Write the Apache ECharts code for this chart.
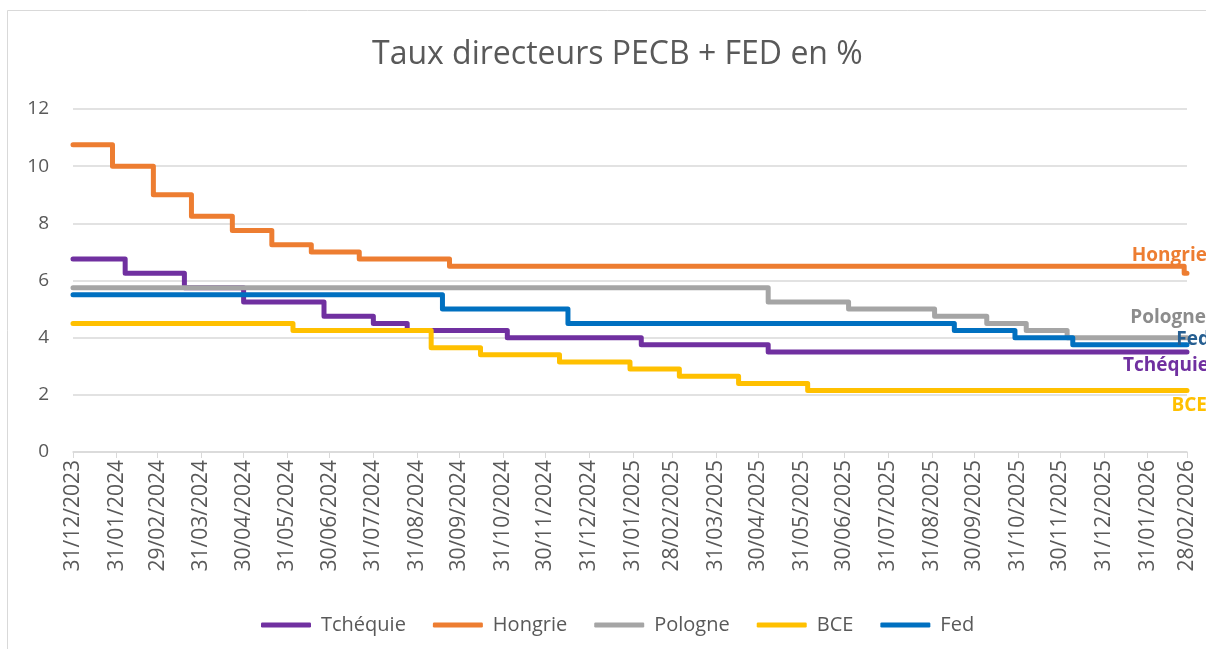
<!DOCTYPE html>
<html>
<head>
    <meta charset="utf-8">
    <title>Taux directeurs PECB + FED en %</title>
    <script src="https://cdn.jsdelivr.net/npm/echarts@6/dist/echarts.min.js"></script>
    <style>
        html, body {
            padding: 0;
            margin: 0;
            background: #ffffff;
        }
        #main {
            width: 1206px;
            height: 649px;
        }
    </style>
</head>
<body>
    <div id="main"></div>
    <script type="text/javascript">
// dates de fin de mois (graduations de l'axe)
var tickDates = ['31/12/2023', '31/01/2024', '29/02/2024', '31/03/2024', '30/04/2024', '31/05/2024',
    '30/06/2024', '31/07/2024', '31/08/2024', '30/09/2024', '31/10/2024', '30/11/2024', '31/12/2024',
    '31/01/2025', '28/02/2025', '31/03/2025', '30/04/2025', '31/05/2025', '30/06/2025', '31/07/2025',
    '31/08/2025', '30/09/2025', '31/10/2025', '30/11/2025', '31/12/2025', '31/01/2026', '28/02/2026'];

// changements de taux (date, nouveau taux)
var tchDates = ['31/12/2023', '06/02/2024', '19/03/2024', '30/04/2024', '26/06/2024', '31/07/2024',
    '24/08/2024', '03/11/2024', '06/02/2025', '07/05/2025', '28/02/2026'];
var tchValues = [6.75, 6.25, 5.75, 5.25, 4.75, 4.5, 4.25, 4.0, 3.75, 3.5, 3.5];

var hunDates = ['31/12/2023', '28/01/2024', '26/02/2024', '24/03/2024', '22/04/2024', '20/05/2024',
    '17/06/2024', '21/07/2024', '23/09/2024', '26/02/2026', '28/02/2026'];
var hunValues = [10.75, 10.0, 9.0, 8.25, 7.75, 7.25, 7.0, 6.75, 6.5, 6.25, 6.25];

var polDates = ['31/12/2023', '07/05/2025', '03/07/2025', '02/09/2025', '09/10/2025', '06/11/2025',
    '05/12/2025', '28/02/2026'];
var polValues = [5.75, 5.25, 5.0, 4.75, 4.5, 4.25, 4.0, 4.0];

var bceDates = ['31/12/2023', '04/06/2024', '10/09/2024', '15/10/2024', '10/12/2024', '29/01/2025',
    '05/03/2025', '16/04/2025', '04/06/2025', '28/02/2026'];
var bceValues = [4.5, 4.25, 3.65, 3.4, 3.15, 2.9, 2.65, 2.4, 2.15, 2.15];

var fedDates = ['31/12/2023', '18/09/2024', '16/12/2024', '16/09/2025', '29/10/2025', '09/12/2025',
    '28/02/2026'];
var fedValues = [5.5, 5.0, 4.5, 4.25, 4.0, 3.75, 3.75];

function toTime(s) {
    var p = s.split('/');
    return new Date(+p[2], +p[1] - 1, +p[0]).getTime();
}
function pad(n) { return n < 10 ? '0' + n : '' + n; }

var font = '"Open Sans", "Liberation Sans", sans-serif';

function makeSeries(name, dates, values, color, labelColor, labelOffset) {
    var data = dates.map(function (dt, i) {
        var item = { value: [toTime(dt), values[i]] };
        if (i === dates.length - 1) {
            item.symbol = 'circle';
            item.symbolSize = 0.1;
            item.label = {
                show: true,
                formatter: name,
                position: 'left',
                distance: 0,
                align: 'right',
                verticalAlign: 'middle',
                offset: labelOffset,
                color: labelColor,
                fontFamily: font,
                fontWeight: 'bold',
                fontSize: 19
            };
        }
        return item;
    });
    return {
        name: name,
        type: 'line',
        step: 'end',
        symbol: 'none',
        showSymbol: true,
        data: data,
        color: color,
        lineStyle: { width: 5, color: color, cap: 'round', join: 'round' },
        emphasis: { disabled: true },
        animation: false
    };
}

var tickTimes = tickDates.map(toTime);
var myChart = echarts.init(document.getElementById('main'));

option = {
    backgroundColor: '#ffffff',
    animation: false,
    title: {
        text: 'Taux directeurs PECB + FED en %',
        left: 367,
        top: 34,
        textStyle: { fontFamily: font, fontSize: 32, fontWeight: 'normal', color: '#595959' }
    },
    legend: {
        top: 610,
        left: 256,
        icon: 'roundRect',
        itemWidth: 50,
        itemHeight: 5,
        itemGap: 27,
        textStyle: { fontFamily: font, fontSize: 20, color: '#595959', padding: [0, 0, 0, 5] },
        data: ['Tchéquie', 'Hongrie', 'Pologne', 'BCE', 'Fed']
    },
    graphic: [{
        type: 'rect',
        shape: { x: 7.5, y: 10.5, width: 1400, height: 800 },
        style: { fill: null, stroke: '#d9d9d9', lineWidth: 1 },
        silent: true
    }],
    grid: { left: 73, right: 19, top: 109, bottom: 197 },
    xAxis: {
        type: 'value',
        min: tickTimes[0],
        max: tickTimes[tickTimes.length - 1],
        axisLine: { show: true, onZero: false, lineStyle: { color: '#d9d9d9', width: 1.5 } },
        axisTick: {
            show: true,
            length: 6,
            lineStyle: { color: '#d9d9d9' },
            customValues: tickTimes
        },
        axisLabel: {
            customValues: tickTimes,
            rotate: 90,
            margin: 8,
            fontFamily: font,
            fontSize: 21,
            color: '#595959',
            hideOverlap: false,
            formatter: function (val) {
                var d = new Date(val);
                return pad(d.getDate()) + '/' + pad(d.getMonth() + 1) + '/' + d.getFullYear();
            }
        },
        splitLine: { show: false }
    },
    yAxis: {
        type: 'value',
        min: 0,
        max: 12,
        interval: 2,
        axisLine: { show: false },
        axisTick: { show: false },
        axisLabel: { fontFamily: font, fontSize: 19, color: '#595959', margin: 24 },
        splitLine: { lineStyle: { color: '#d9d9d9', width: 1.5 } }
    },
    series: [
        makeSeries('Tchéquie', tchDates, tchValues, '#7030a0', '#7030a0', [22, 14]),
        makeSeries('Hongrie', hunDates, hunValues, '#ed7d31', '#ed7d31', [20, -18]),
        makeSeries('Pologne', polDates, polValues, '#a5a5a5', '#8c8c8c', [19, -20]),
        makeSeries('BCE', bceDates, bceValues, '#ffc000', '#ffc000', [20, 15]),
        makeSeries('Fed', fedDates, fedValues, '#0070c0', '#255e91', [23, -5])
    ]
};

myChart.setOption(option);
    </script>
</body>
</html>
